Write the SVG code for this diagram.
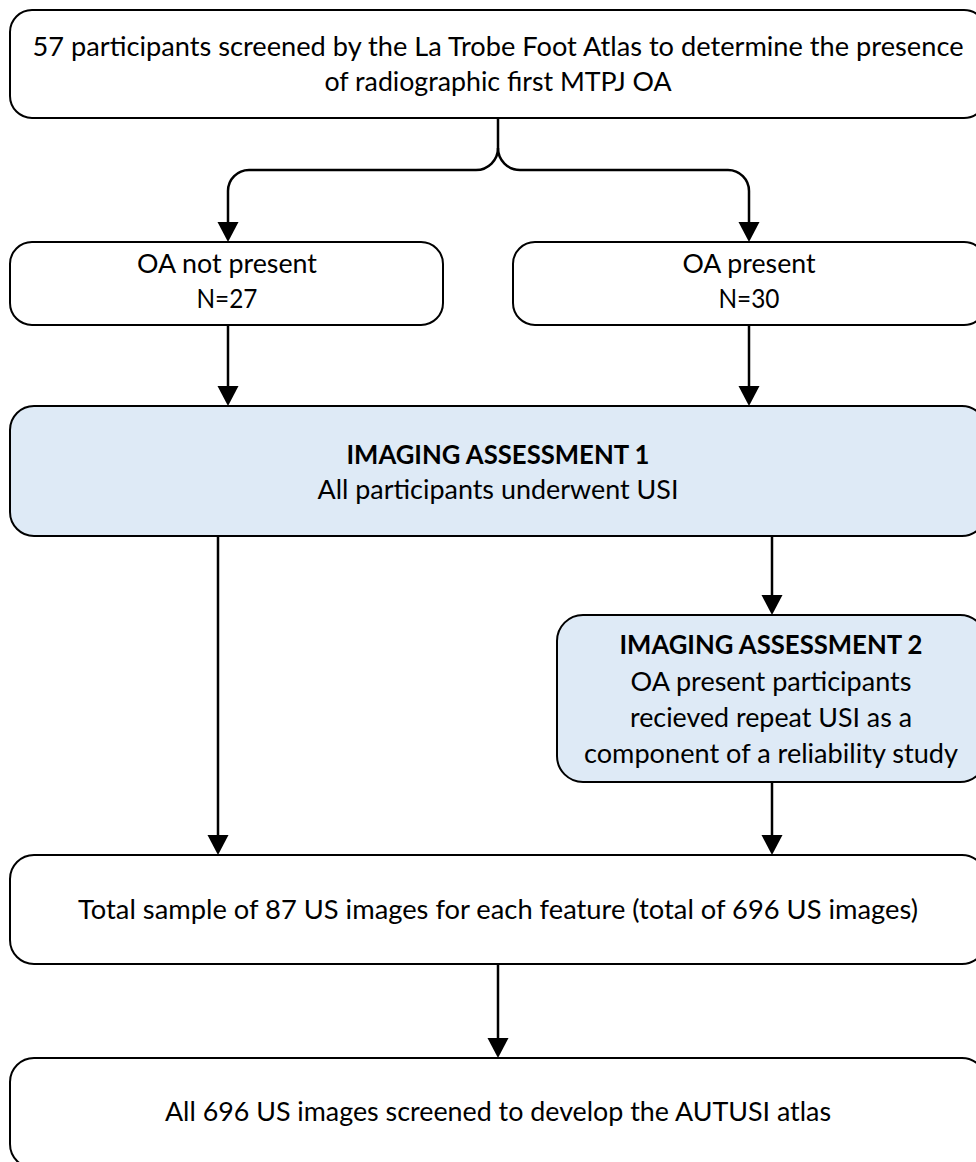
<svg xmlns="http://www.w3.org/2000/svg" width="976" height="1162" viewBox="0 0 976 1162">
<style>
.box{fill:#ffffff;stroke:#000000;stroke-width:2}
.blue{fill:#DEEAF6;stroke:#000000;stroke-width:2}
.t{font-family:Lato,"Liberation Sans",sans-serif;font-size:26.5px;fill:#000000;text-anchor:middle}
.b{font-weight:bold}
.c{fill:none;stroke:#000000;stroke-width:2.5}
</style>
<defs>
<marker id="ah" markerUnits="userSpaceOnUse" markerWidth="22" markerHeight="22" refX="0" refY="10.5" orient="auto" overflow="visible">
<path d="M0,0 L20,10.5 L0,21 Z" fill="#000000"/>
</marker>
</defs>
<rect width="976" height="1162" fill="#ffffff"/>
<g id="connectors">
<path class="c" d="M498,118 V148 A22,22 0 0 1 476,170 H249 A21,21 0 0 0 228,191 V222" marker-end="url(#ah)"/>
<path class="c" d="M498,148 A22,22 0 0 0 520,170 H728 A21,21 0 0 1 749,191 V222" marker-end="url(#ah)"/>
<path class="c" d="M228,325 V386" marker-end="url(#ah)"/>
<path class="c" d="M749,325 V386" marker-end="url(#ah)"/>
<path class="c" d="M218,536 V835" marker-end="url(#ah)"/>
<path class="c" d="M772,536 V595" marker-end="url(#ah)"/>
<path class="c" d="M772,782 V835" marker-end="url(#ah)"/>
<path class="c" d="M498,964 V1038" marker-end="url(#ah)"/>
</g>
<g id="screened">
<rect class="box" x="10" y="10" width="976" height="108" rx="22" ry="22"/>
<text class="t" x="498" y="56" textLength="931" lengthAdjust="spacingAndGlyphs">57 participants screened by the La Trobe Foot Atlas to determine the presence</text>
<text class="t" x="498" y="91" textLength="347" lengthAdjust="spacingAndGlyphs">of radiographic first MTPJ OA</text>
</g>
<g id="oa-not-present">
<rect class="box" x="10" y="242" width="433" height="83" rx="22" ry="22"/>
<text class="t" x="227" y="273" textLength="180" lengthAdjust="spacingAndGlyphs">OA not present</text>
<text class="t" x="227" y="308" textLength="61" lengthAdjust="spacingAndGlyphs">N=27</text>
</g>
<g id="oa-present">
<rect class="box" x="513" y="242" width="473" height="83" rx="22" ry="22"/>
<text class="t" x="749" y="273" textLength="133" lengthAdjust="spacingAndGlyphs">OA present</text>
<text class="t" x="749" y="308" textLength="61" lengthAdjust="spacingAndGlyphs">N=30</text>
</g>
<g id="imaging-1">
<rect class="blue" x="10" y="406" width="976" height="130" rx="24" ry="24"/>
<text class="t b" x="498" y="464" textLength="303" lengthAdjust="spacingAndGlyphs">IMAGING ASSESSMENT 1</text>
<text class="t" x="498" y="499" textLength="361" lengthAdjust="spacingAndGlyphs">All participants underwent USI</text>
</g>
<g id="imaging-2">
<rect class="blue" x="557" y="615" width="429" height="167" rx="26" ry="26"/>
<text class="t b" x="771" y="654" textLength="303" lengthAdjust="spacingAndGlyphs">IMAGING ASSESSMENT 2</text>
<text class="t" x="771" y="691" textLength="281" lengthAdjust="spacingAndGlyphs">OA present participants</text>
<text class="t" x="771" y="727" textLength="282" lengthAdjust="spacingAndGlyphs">recieved repeat USI as a</text>
<text class="t" x="771" y="763" textLength="374" lengthAdjust="spacingAndGlyphs">component of a reliability study</text>
</g>
<g id="total-sample">
<rect class="box" x="10" y="855" width="976" height="109" rx="24" ry="24"/>
<text class="t" x="498" y="919" textLength="840" lengthAdjust="spacingAndGlyphs">Total sample of 87 US images for each feature (total of 696 US images)</text>
</g>
<g id="atlas">
<rect class="box" x="10" y="1058" width="976" height="110" rx="24" ry="24"/>
<text class="t" x="498" y="1121" textLength="666" lengthAdjust="spacingAndGlyphs">All 696 US images screened to develop the AUTUSI atlas</text>
</g>
</svg>
